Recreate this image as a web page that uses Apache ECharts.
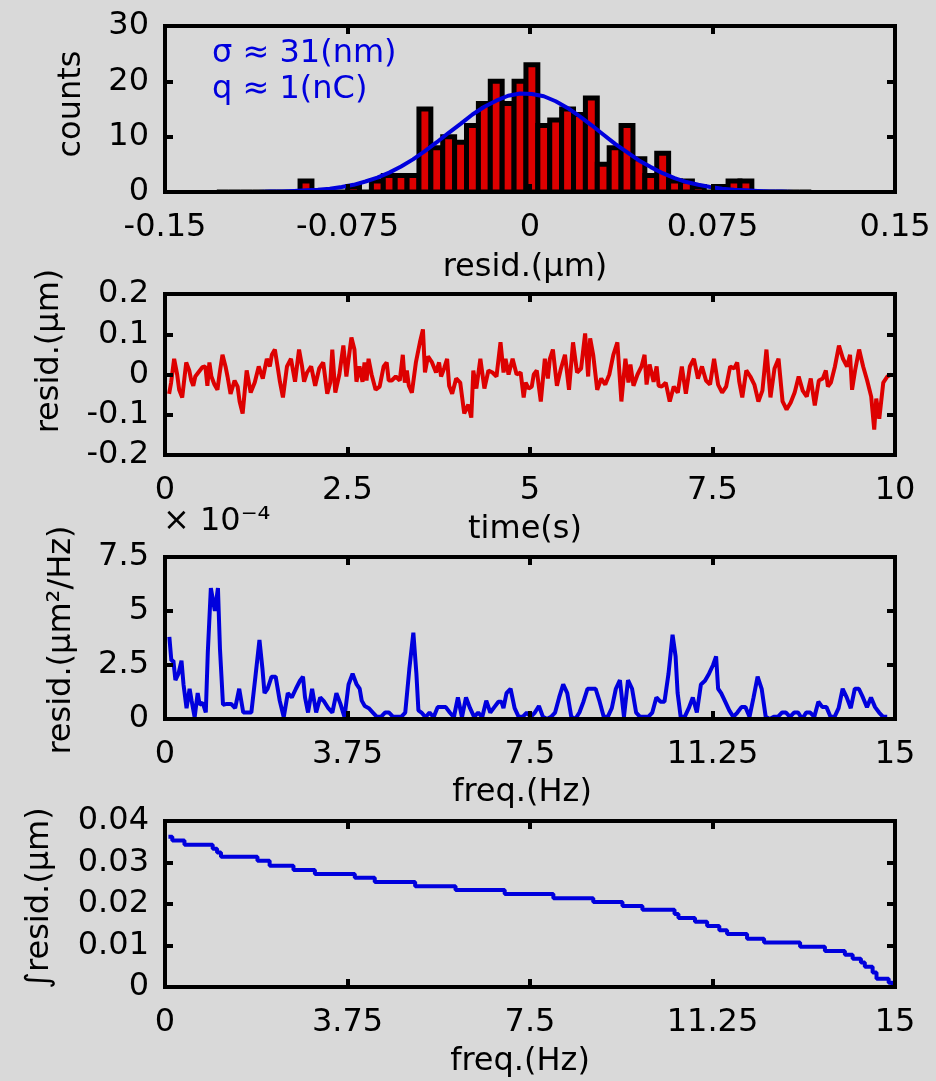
<!DOCTYPE html>
<html>
<head>
<meta charset="utf-8">
<script src="https://cdn.jsdelivr.net/npm/echarts@6/dist/echarts.min.js"></script>
<style>
  html, body { margin: 0; padding: 0; background: #d9d9d9; }
  #chart { width: 936px; height: 1081px; }
</style>
</head>
<body>
<div id="chart"></div>
<script>
// ---- residual histogram: 50 equal bins (µm) ----
const histBinLo = -0.1287;
const histBinWidth = 0.004886;
const histCounts = [0,0,0,0,0,0,0,2,0,0, 0,1,0,2,3,3,3,15,8,10,
                    9,12,16,20,16,20,23,12,13,15, 14,17,5,8,12,6,3,7,2,2,
                    1,0,1,2,2,0,0,0,0,0];
// gaussian fit evaluated at the bin centres
const histFit = [0.0,0.0,0.0,0.0,0.1,0.1,0.2,0.3,0.4,0.6,
                 0.9,1.3,1.9,2.6,3.5,4.6,5.9,7.4,9.0,10.7,
                 12.3,14.0,15.4,16.5,17.4,17.8,17.7,17.3,16.4,15.2,
                 13.7,12.1,10.4,8.7,7.2,5.7,4.5,3.4,2.5,1.8,
                 1.3,0.9,0.6,0.4,0.3,0.2,0.1,0.1,0.0,0.0];
const fitLabels = ['σ ≈ 31(nm)', 'q ≈ 1(nC)'];

// ---- residual vs time (µm); one entry per time slot, pairs = two samples in a slot ----
const residStart = 0.07, residEnd = 9.95;
const residCols = [
  [-0.048,-0.020], 0.039, [0.0,-0.038], -0.057, 0.030, [0.010,-0.015], [-0.028,-0.005], 0.005, 0.018, [0.020,-0.028],
  [0.030,-0.005], -0.025, [-0.038,0.0], 0.049, [0.020,-0.005], -0.048, -0.015, [-0.030,-0.067], -0.097, 0.010,
  -0.045, -0.020, 0.020, -0.010, 0.039, [0.020,0.049], 0.062, [0.015,-0.018], -0.057, 0.020,
  0.039, -0.018, 0.062, [0.020,-0.018], 0.005, 0.020, -0.028, 0.015, 0.030, -0.048,
  [-0.020,0.062], -0.045, 0.000, 0.072, [-0.005,0.035], 0.092, [0.062,-0.018], 0.020, [-0.018,0.030], [-0.015,0.039],
  0.000, -0.038, -0.030, 0.020, [0.030,-0.015], -0.015, -0.005, -0.015, [0.049,-0.020], [0.010,-0.028],
  -0.045, 0.030, 0.080, [0.112,0.005], 0.045, 0.030, 0.005, [0.030,-0.005], 0.015, [0.039,-0.028],
  -0.048, -0.010, -0.020, -0.097, -0.075, [-0.107,0.010], -0.035, 0.039, -0.035, 0.010,
  0.005, -0.005, 0.080, [0.005,0.039], 0.000, 0.039, 0.000, 0.005, [-0.057,-0.020],
  -0.035, [-0.030,0.000], 0.010, -0.067, 0.039, [-0.010,0.039], 0.062, -0.028, 0.015, 0.049,
  -0.038, 0.080, 0.005, 0.015, 0.102, [-0.005,0.090], 0.049, -0.038, -0.010, -0.025,
  0.000, 0.049, 0.080, -0.067, 0.039, [-0.020,0.025], -0.028, 0.000, 0.020, [0.049,-0.025],
  0.025, -0.018, [0.020,-0.028], -0.030, -0.020, -0.067, -0.030, -0.045, 0.020, -0.048,
  0.020, 0.039, -0.010, 0.020, -0.015, -0.025, 0.039, -0.025, -0.045, -0.030,
  0.020, 0.015, [0.030,-0.018], -0.057, 0.010, -0.005, -0.025, -0.067, -0.040, 0.062,
  -0.057, 0.015, 0.039, -0.067, -0.087, -0.070, -0.045, -0.005, -0.040, -0.055,
  -0.010, -0.077, -0.015, -0.010, [0.010,-0.030], -0.020, 0.020, 0.072, 0.039, 0.020,
  [0.049,-0.038], 0.010, 0.062, 0.020, -0.015, -0.055, [-0.137,-0.060], -0.110, -0.020, -0.005, 0.000
];

// ---- residual power spectral density (×10^-4 µm²/Hz) ----
const psdStart = 0.11, psdEnd = 14.84;
const psdCols = [
  [3.8,2.7], [2.7,1.8], 2.1, [2.7,1.6], 0.5, [1.4,0.85], 0.08, [1.2,0.66], 0.75, [0.3,3.1],
  6.06, 5.0, [6.06,3.25], 0.66, 0.7, 0.7, 0.5, 1.4, 0.3, 0.3,
  0.3, 1.96, 3.66, [2.3,1.2], 1.4, 1.96, 1.96, 0.85, 0.08, 1.2,
  1.0, 1.4, 1.77, [1.96,1.0], 0.3, 1.4, 0.3, 1.0, 0.8, 0.5,
  0.3, 1.2, 0.7, 0.08, 1.6, 2.1, 1.6, [1.4,0.85], 0.6, 0.5,
  0.3, 0.1, 0.1, 0.3, 0.3, 0.1, 0.1, 0.1, 0.3, 2.3,
  4.0, [2.1,0.4], 0.3, 0.08, 0.3, 0.08, 0.55, 0.55, 0.55, 0.3,
  0.08, 1.0, 0.08, 1.0, 0.5, 0.1, 0.3, 0.08, 0.85, 0.3,
  0.55, 0.8, [0.8,0.5], 1.2, 1.4, 0.5, 0.1, 0.1, 0.3,
  0.1, 0.3, 0.6, 0.1, 0, 0.1, 0.3, 1.0, 1.6, 1.2,
  0.1, 0, 0.3, 0.8, 1.4, 1.4, 1.4, 0.8, 0.1, 0.1,
  0.5, 1.4, 1.8, 0.1, 1.8, 1.4, 0.3, 0.1, 0.1, 0.1,
  0.3, 1.0, 0.8, 0.8, 2.1, 3.9, [2.9,1.2], 0.1, 0.1, 0.5,
  1.0, 0.3, 1.6, 1.77, 2.1, 2.5, [2.9,1.4], 1.2, 0.8, 0.4,
  0.1, 0.3, 0.55, 0.55, 0.1, 1.0, 1.96, 1.4, 0.1, 0,
  0.1, 0.1, 0.3, 0.3, 0.1, 0.3, 0.3, 0, 0.3, 0.3,
  0.1, 0.8, 0.55, 0.55, 0.1, 0.1, 0.5, 1.4, 1.0, 0.5,
  1.4, 1.4, 1.0, 0.55, 1.0, 0.55, 0.3, 0.1, 0.1
];

// ---- integrated residual from f up to 15 Hz (µm), held until the next frequency ----
const cumFreq = [0.07, 0.15, 0.40, 0.98, 1.07, 1.15, 1.90, 2.15, 2.64, 3.08,
                 3.90, 4.31, 5.14, 5.97, 6.98, 7.98, 8.80, 9.40, 9.81, 10.47,
                 10.55, 10.89, 11.14, 11.39, 11.55, 11.96, 12.31, 13.05, 13.56, 13.97,
                 14.13, 14.30, 14.38, 14.54, 14.62, 14.87, 14.95, 15.0];
const cumVal = [0.0362, 0.0353, 0.0343, 0.0333, 0.0324, 0.0314, 0.0304, 0.0292, 0.0282, 0.0272,
                0.0263, 0.0253, 0.0243, 0.0234, 0.0224, 0.0214, 0.0205, 0.0195, 0.0186, 0.0176,
                0.0166, 0.0157, 0.0147, 0.0137, 0.0128, 0.0116, 0.0107, 0.0097, 0.0087, 0.0078,
                0.0068, 0.0059, 0.0049, 0.0035, 0.0020, 0.0010, 0.0005, 0.0005];

// ---- styling ----
const BG = '#d9d9d9', RED = '#dd0000', BLUE = '#0000dd', INK = '#000000';
const FONT = '"DejaVu Sans", "Liberation Sans", sans-serif';
const FS = 32;

// spread slot entries over an evenly spaced axis
function expandCols(cols, start, end) {
  const step = (end - start) / (cols.length - 1);
  const out = [];
  cols.forEach((c, k) => {
    const t = start + k * step;
    if (Array.isArray(c)) { out.push([t - step / 4, c[0]], [t + step / 4, c[1]]); }
    else out.push([t, c]);
  });
  return out;
}

const histData = histCounts.map((c, i) => {
  const lo = histBinLo + i * histBinWidth;
  return [lo, lo + histBinWidth, c];
});
const fitData = histFit.map((v, i) => [histBinLo + (i + 0.5) * histBinWidth, v]);
const residData = expandCols(residCols, residStart, residEnd);
const psdData = expandCols(psdCols, psdStart, psdEnd);
const cumData = cumFreq.map((f, i) => [f, cumVal[i]]);

// four stacked panels
const grids = [
  { left: 165, width: 730, top: 26,  height: 166 },
  { left: 165, width: 730, top: 294, height: 161 },
  { left: 165, width: 730, top: 557, height: 162 },
  { left: 165, width: 730, top: 821, height: 166 }
];
const ranges = [
  { x: [-0.15, 0.15, 0.075], y: [0, 30, 10] },
  { x: [0, 10, 2.5],         y: [-0.2, 0.2, 0.1] },
  { x: [0, 15, 3.75],        y: [0, 7.5, 2.5] },
  { x: [0, 15, 3.75],        y: [0, 0.04, 0.01] }
];

const lineStyle = { color: INK, width: 4, cap: 'square' };
const tick = { show: true, inside: true, length: 8, lineStyle: { color: INK, width: 4 } };
const labelStyle = { color: INK, fontSize: FS, fontFamily: FONT, showMinLabel: true, showMaxLabel: true };

const xAxes = [], yAxes = [];
ranges.forEach((r, g) => {
  ['bottom', 'top'].forEach(pos => {
    xAxes.push({
      gridIndex: g, type: 'value', position: pos, z: 5,
      min: r.x[0], max: r.x[1], interval: r.x[2],
      axisLine: { show: true, onZero: false, lineStyle },
      axisTick: tick,
      axisLabel: Object.assign({ show: pos === 'bottom', margin: 20 }, labelStyle),
      splitLine: { show: false }
    });
  });
  ['left', 'right'].forEach(pos => {
    yAxes.push({
      gridIndex: g, type: 'value', position: pos, z: 5,
      min: r.y[0], max: r.y[1], interval: r.y[2],
      axisLine: { show: true, onZero: false, lineStyle },
      axisTick: tick,
      axisLabel: Object.assign({ show: pos === 'left', margin: 16 }, labelStyle),
      splitLine: { show: false }
    });
  });
});

// axis titles and annotations
function label(text, x, y, opts, styleExtra) {
  return Object.assign({
    type: 'text', x, y, z: 10,
    style: Object.assign({ text, fill: INK, fontSize: FS, fontFamily: FONT,
                           textAlign: 'center', textVerticalAlign: 'middle' }, styleExtra || {})
  }, opts || {});
}
const vertical = { rotation: Math.PI / 2 };

const graphics = [
  label('counts', 72, 104, vertical),
  label('resid.(µm)', 525, 268),
  label('resid.(µm)', 50, 351, vertical),
  label('time(s)', 525, 530),
  label('× 10⁻⁴', 163, 522, null, { textAlign: 'left' }),
  label('resid.(µm²/Hz)', 62, 640, vertical),
  label('freq.(Hz)', 522, 793),
  label('∫resid.(µm)', 40, 898, vertical),
  label('freq.(Hz)', 520, 1062),
  label(fitLabels[0], 212, 54, null, { textAlign: 'left', fill: BLUE }),
  label(fitLabels[1], 212, 90, null, { textAlign: 'left', fill: BLUE })
];

const chart = echarts.init(document.getElementById('chart'), null, { renderer: 'canvas' });
chart.setOption({
  backgroundColor: BG,
  animation: false,
  grid: grids,
  xAxis: xAxes,
  yAxis: yAxes,
  graphic: graphics,
  series: [
    {
      type: 'custom', xAxisIndex: 0, yAxisIndex: 0, data: histData, clip: true,
      renderItem(params, api) {
        const a = api.coord([api.value(0), api.value(2)]);
        const b = api.coord([api.value(1), 0]);
        return {
          type: 'rect',
          shape: { x: a[0], y: a[1], width: b[0] - a[0], height: b[1] - a[1] },
          style: { fill: RED, stroke: INK, lineWidth: 5 }
        };
      }
    },
    {
      type: 'line', xAxisIndex: 0, yAxisIndex: 0, data: fitData, showSymbol: false,
      lineStyle: { color: BLUE, width: 4 }, z: 3
    },
    {
      type: 'line', xAxisIndex: 2, yAxisIndex: 2, data: residData, showSymbol: false,
      lineStyle: { color: RED, width: 4 }
    },
    {
      type: 'line', xAxisIndex: 4, yAxisIndex: 4, data: psdData, showSymbol: false,
      lineStyle: { color: BLUE, width: 4 }
    },
    {
      type: 'line', xAxisIndex: 6, yAxisIndex: 6, data: cumData, showSymbol: false, step: 'end',
      lineStyle: { color: BLUE, width: 4 }
    }
  ]
});
</script>
</body>
</html>
